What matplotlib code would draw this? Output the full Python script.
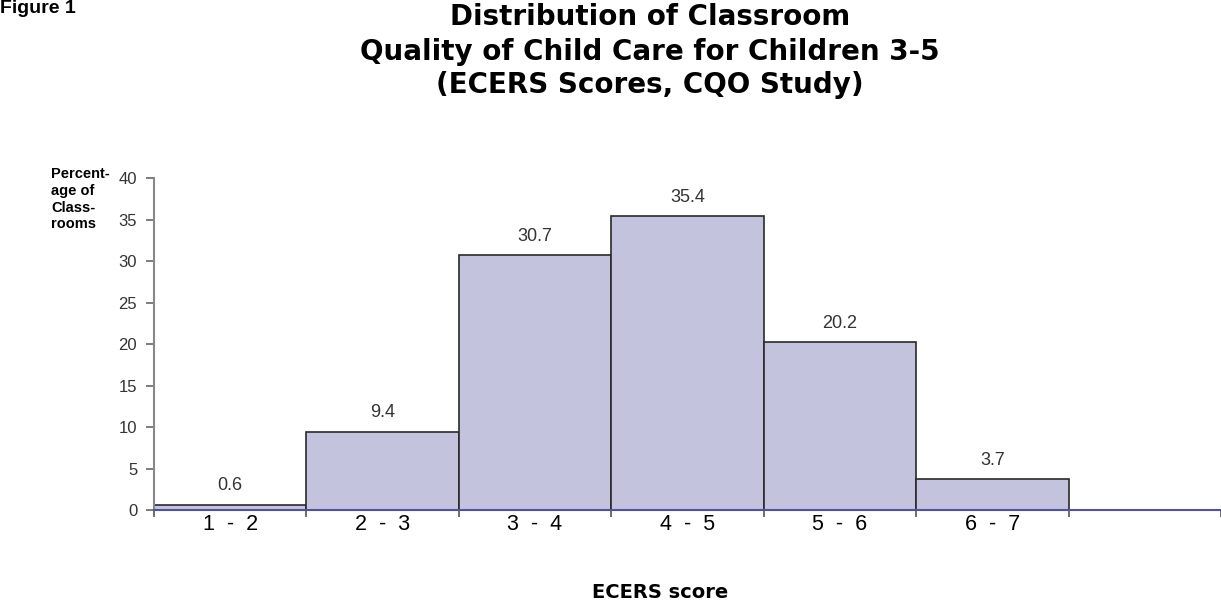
import numpy as np
import matplotlib.pyplot as plt

# data
categories = ["1  -  2", "2  -  3", "3  -  4", "4  -  5", "5  -  6", "6  -  7"]
percentages = [0.6, 9.4, 30.7, 35.4, 20.2, 3.7]
y_ticks = [0, 5, 10, 15, 20, 25, 30, 35, 40]
title_lines = ["Distribution of Classroom",
               "Quality of Child Care for Children 3-5",
               "(ECERS Scores, CQO Study)"]

plt.rcParams['font.family'] = ['Liberation Sans', 'DejaVu Sans']

W, H = 1221, 608
fig = plt.figure(figsize=(W / 100, H / 100), dpi=100)
ax = fig.add_axes([0.126, 0.161, 0.874, 0.546])

x = np.arange(len(categories)) + 0.5
ax.bar(x, percentages, width=1.0, color='#c3c3dd', edgecolor='#2a2a2a', linewidth=1.2)

for xi, v in zip(x, percentages):
    ax.text(xi, v + 1.3, f"{v:.1f}", ha='center', va='bottom', fontsize=13, color='#333333')

ax.set_xlim(0, 7)
ax.set_ylim(0, 40)
ax.set_yticks(y_ticks)
ax.tick_params(axis='y', labelsize=12, colors='#666666', length=6, width=1.2, pad=6)
for lbl in ax.get_yticklabels():
    lbl.set_color('#333333')

ax.set_xticks(x)
ax.set_xticklabels(categories, fontsize=15.5)
ax.tick_params(axis='x', length=0, pad=3)
ax.set_xticks(np.arange(0, 8), minor=True)
ax.tick_params(axis='x', which='minor', length=5, width=1.2, color='#555555')

for side in ['top', 'right']:
    ax.spines[side].set_visible(False)
ax.spines['left'].set_color('#888888')
ax.spines['left'].set_linewidth(1.5)
ax.spines['bottom'].set_color('#5050a8')
ax.spines['bottom'].set_linewidth(1.5)

fig.text(660 / W, 1 - 593 / H, "ECERS score", ha='center', va='center', fontsize=14,
         fontweight='bold', family='DejaVu Sans')

# title, one line at a time (wide heavy face like the original)
for line, ypx in zip(title_lines, [17, 52, 85]):
    fig.text(650 / W, 1 - ypx / H, line, ha='center', va='center', fontsize=20,
             fontweight='bold', family='DejaVu Sans')

fig.text(0.0, 1.0, "Figure 1", ha='left', va='top', fontsize=14, fontweight='bold')
fig.text(0.042, 0.725, "Percent-\nage of\nClass-\nrooms", ha='left', va='top', fontsize=10.5,
         fontweight='bold', linespacing=1.25)

fig.savefig("out.png", dpi=100)
